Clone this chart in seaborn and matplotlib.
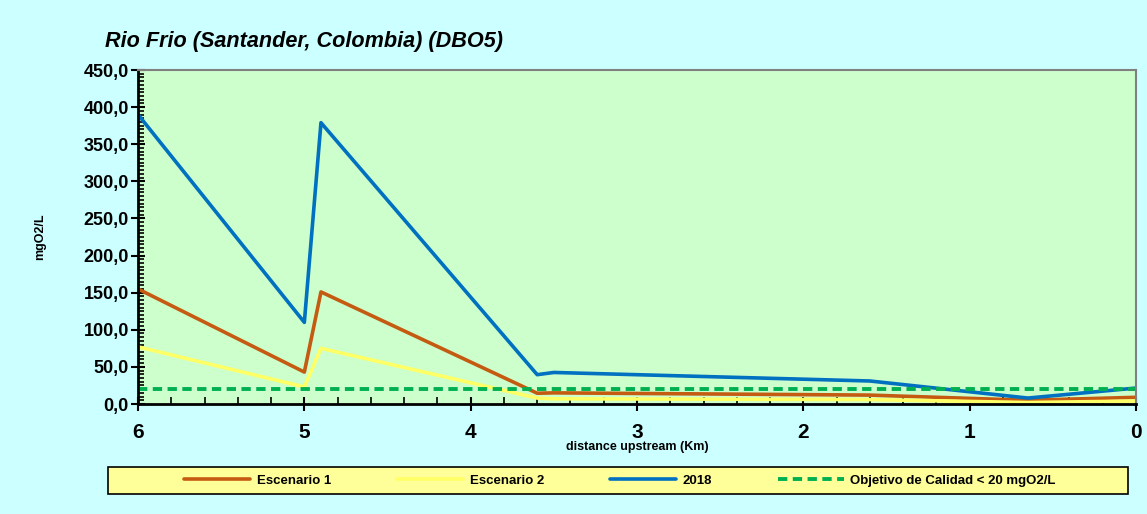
import numpy as np
import pandas as pd
import seaborn as sns
import matplotlib.pyplot as plt
from matplotlib.ticker import MultipleLocator, FuncFormatter
from matplotlib.patches import Rectangle

# datos
km = [6.0, 5.0, 4.9, 3.6, 3.5, 1.6, 0.65, 0.0]
escenario_1 = [155, 43, 151, 14.5, 15, 12, 5, 9]
escenario_2 = [77, 23, 75, 8, 7, 6, 2, 4]
base_2018 = [390, 110, 379, 39.5, 42.5, 31, 8, 21.5]
objetivo = [20, 20]
objetivo_km = [6.0, 0.0]

sns.set_theme(style="white")
plt.rcParams['font.family'] = ['Liberation Sans Narrow', 'Liberation Sans', 'DejaVu Sans']
plt.rcParams['font.weight'] = 'bold'
for k in ['text.color', 'axes.labelcolor', 'xtick.color', 'ytick.color']:
    plt.rcParams[k] = 'black'

fig = plt.figure(figsize=(11.47, 5.14), dpi=100, facecolor='#CCFFFF')
ax = fig.add_axes([138/1147, 1-404/514, 998/1147, 334/514])
ax.set_facecolor('#CCFFCC')

sns.lineplot(x=km, y=escenario_1, color='#C55A11', lw=2.6, sort=False, ax=ax, label='Escenario 1')
sns.lineplot(x=km, y=escenario_2, color='#FFFF66', lw=2.6, sort=False, ax=ax, label='Escenario 2')
sns.lineplot(x=km, y=base_2018, color='#0070C0', lw=2.6, sort=False, ax=ax, label='2018')
sns.lineplot(x=objetivo_km, y=objetivo, color='#00B050', lw=2.8, sort=False, ax=ax,
             label='Objetivo de Calidad < 20 mgO2/L', linestyle=(0, (2.4, 1.4)))

ax.set_xlim(6, 0)
ax.set_ylim(0, 450)
ax.xaxis.set_major_locator(MultipleLocator(1))
ax.xaxis.set_minor_locator(MultipleLocator(0.2))
ax.yaxis.set_major_locator(MultipleLocator(50))
ax.yaxis.set_minor_locator(MultipleLocator(5))
ax.yaxis.set_major_formatter(FuncFormatter(lambda v, p: f"{v:.1f}".replace('.', ',')))
ax.xaxis.set_major_formatter(FuncFormatter(lambda v, p: f"{v:.0f}"))

ax.tick_params(axis='x', which='major', direction='inout', length=10, width=1.5, labelsize=15, pad=9, bottom=True)
ax.tick_params(axis='x', which='minor', direction='in', length=5, width=1.2, bottom=True)
ax.tick_params(axis='y', which='major', direction='inout', length=10, width=1.5, labelsize=13, pad=1.5, left=True)
ax.tick_params(axis='y', which='minor', direction='in', length=4, width=1.2, left=True)
for lab in ax.get_xticklabels() + ax.get_yticklabels():
    lab.set_fontweight('bold')

for s in ['left', 'bottom']:
    ax.spines[s].set_color('black')
    ax.spines[s].set_linewidth(2)
for s in ['top', 'right']:
    ax.spines[s].set_color('#808080')
    ax.spines[s].set_linewidth(1.5)

ax.set_xlabel('distance upstream (Km)', fontsize=9, fontweight='bold', labelpad=-1)
ax.set_ylabel('mgO2/L', fontsize=9, fontweight='bold', labelpad=27)
fig.text(105/1147, 1-42/514, 'Rio Frio (Santander, Colombia) (DBO5)', fontsize=15.6,
         fontweight='bold', fontstyle='italic', va='center', ha='left',
         family=['Liberation Sans', 'DejaVu Sans'])

# caja de la leyenda
fig.patches.append(Rectangle((108/1147, 1-494/514), 1020/1147, 27/514, transform=fig.transFigure,
                             facecolor='#FFFF99', edgecolor='black', linewidth=1.2, zorder=0))
handles, labels = ax.get_legend_handles_labels()
ax.get_legend().remove()
leg = fig.legend(handles, labels, ncol=4, loc='center',
                 bbox_to_anchor=(620/1147, 1-480.5/514),
                 frameon=False, prop={'size': 9.5, 'weight': 'bold'},
                 handlelength=5.0, handletextpad=0.5, columnspacing=5.0, borderaxespad=0)

fig.savefig('out.png', dpi=100, facecolor=fig.get_facecolor())
